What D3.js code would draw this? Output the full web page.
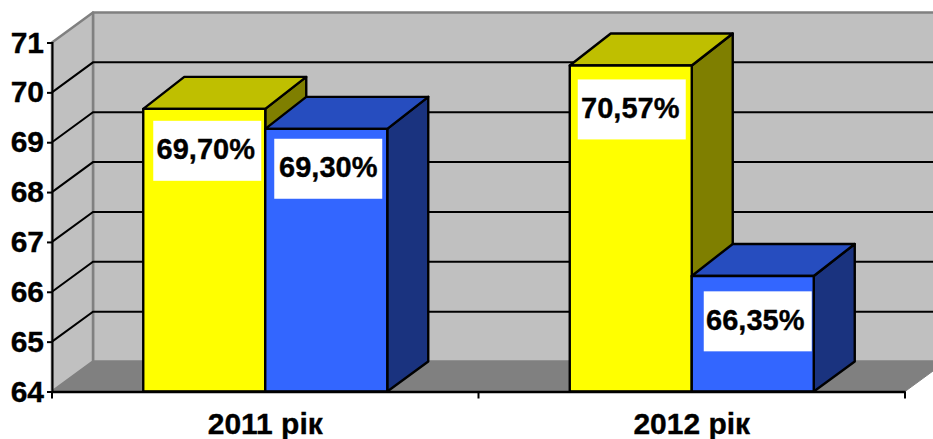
<!DOCTYPE html>
<html>
<head>
<meta charset="utf-8">
<script src="https://cdnjs.cloudflare.com/ajax/libs/d3/7.8.5/d3.min.js"></script>
<style>
  html, body { margin: 0; padding: 0; background: #fff; overflow: hidden; }
  text { font-family: "Liberation Sans", Arial, sans-serif; font-weight: bold; fill: #000; stroke: #000; stroke-width: 0.35px; }
</style>
</head>
<body>
<div id="viz"></div>
<script>
var categories = ['2011 рік', '2012 рік'];
var seriesA = [69.7, 70.57];
var seriesB = [69.3, 66.35];
var labelsA = ['69,70%', '70,57%'];
var labelsB = ['69,30%', '66,35%'];
var yTicks = [64, 65, 66, 67, 68, 69, 70, 71];

var width = 933, height = 439;
var depthX = 41, depthY = -30, barDepthY = -32;

var svg = d3.select('#viz').append('svg')
    .attr('width', width)
    .attr('height', height)
    .style('display', 'block');

var yScale = d3.scaleLinear().domain([64, 71]).range([391.5, 42.5]);
var xScale = d3.scaleBand().domain(categories).range([52, 905]);
var barWidth = 122;
var barDrop = 1.6; // bar tops sit a touch below the gridline scale in the original

function poly(pts, fill, stroke, sw) {
    return svg.append('polygon')
        .attr('points', pts.map(function(p) { return p.join(','); }).join(' '))
        .attr('fill', fill)
        .attr('stroke', stroke || 'none')
        .attr('stroke-width', sw || 0)
        .attr('stroke-linejoin', 'round');
}

var x0 = 52, x1 = 905;
var yBot = yScale(64), yTop = yScale(71);

// walls and floor
poly([[x0 + depthX, yTop + depthY], [x1 + depthX, yTop + depthY], [x1 + depthX, yBot + depthY], [x0 + depthX, yBot + depthY]], '#c0c0c0', '#808080', 2.5);
poly([[x0, yTop], [x0 + depthX, yTop + depthY], [x0 + depthX, yBot + depthY], [x0, yBot]], '#c0c0c0', '#808080', 2.5);
poly([[x0, yBot], [x0 + depthX, yBot + depthY], [x1 + depthX, yBot + depthY], [x1, yBot]], '#808080', '#808080', 1);

// gridlines
var gridTicks = yTicks.filter(function(d) { return d > 64 && d < 71; });
svg.append('g').selectAll('path')
    .data(gridTicks)
    .enter()
    .append('path')
    .attr('d', function(d) {
        var y = yScale(d);
        return 'M' + x0 + ',' + y + 'L' + (x0 + depthX) + ',' + (y + depthY) + 'L' + (x1 + depthX) + ',' + (y + depthY);
    })
    .attr('fill', 'none')
    .attr('stroke', '#000')
    .attr('stroke-width', 2);

function drawBar(x, value, front, top, side) {
    var y = yScale(value) + barDrop;
    var w = barWidth;
    poly([[x + w, y], [x + w + depthX, y + barDepthY], [x + w + depthX, yBot + depthY], [x + w, yBot]], side, '#000', 2.4);
    poly([[x, y], [x + depthX, y + barDepthY], [x + w + depthX, y + barDepthY], [x + w, y]], top, '#000', 2.4);
    poly([[x, y], [x + w, y], [x + w, yBot], [x, yBot]], front, '#000', 2.4);
}

// yellow first, the blue bar sits over its side face
categories.forEach(function(c, i) {
    var left = xScale(c) + xScale.bandwidth() / 2 - barWidth;
    drawBar(left, seriesA[i], '#ffff00', '#bfbf00', '#7f7f00');
    drawBar(left + barWidth, seriesB[i], '#3366ff', '#264dbf', '#1a337f');
});

// axes
var yAxis = d3.axisLeft(yScale).tickValues(yTicks).tickSize(5).tickPadding(3).tickFormat(d3.format('d'));
var gy = svg.append('g').attr('transform', 'translate(' + x0 + ',0)').call(yAxis);
gy.selectAll('text').style('font-size', '30px').attr('font-family', null);

var xAxis = d3.axisBottom(xScale).tickSize(0).tickPadding(21);
var gx = svg.append('g').attr('transform', 'translate(0,' + yBot + ')').call(xAxis);
gx.selectAll('text').style('font-size', '30px');
gx.selectAll('.tick line').remove();

// tick marks between categories on the x axis
svg.append('g').selectAll('line')
    .data([xScale.range()[0], xScale(categories[1]), xScale.range()[1]])
    .enter()
    .append('line')
    .attr('x1', function(d) { return d; })
    .attr('x2', function(d) { return d; })
    .attr('y1', yBot)
    .attr('y2', yBot + 7)
    .attr('stroke', '#000')
    .attr('stroke-width', 2);

gy.selectAll('.domain, line').attr('stroke', '#000').attr('stroke-width', 2);
gx.selectAll('.domain').attr('stroke', '#000').attr('stroke-width', 2.5);

// value labels on white boxes
var boxW = 108, boxH = 60;
function drawLabel(cx, value, text, dx, dy, tx) {
    var cy = yScale(value) + dy;
    svg.append('rect')
        .attr('x', cx + dx - boxW / 2)
        .attr('y', cy - boxH / 2)
        .attr('width', boxW)
        .attr('height', boxH)
        .attr('fill', '#fff');
    svg.append('text')
        .attr('x', cx + dx + tx)
        .attr('y', cy + 8.5)
        .attr('text-anchor', 'middle')
        .style('font-size', '29px')
        .text(text);
}

var nudgesA = [[3, 43.5, -1.5], [1, 45.5, -1.5]];
var nudgesB = [[2, 41.5, 0], [5, 47, -2.5]];
categories.forEach(function(c, i) {
    var mid = xScale(c) + xScale.bandwidth() / 2;
    drawLabel(mid - barWidth / 2, seriesA[i], labelsA[i], nudgesA[i][0], nudgesA[i][1], nudgesA[i][2]);
    drawLabel(mid + barWidth / 2, seriesB[i], labelsB[i], nudgesB[i][0], nudgesB[i][1], nudgesB[i][2]);
});
</script>
</body>
</html>
